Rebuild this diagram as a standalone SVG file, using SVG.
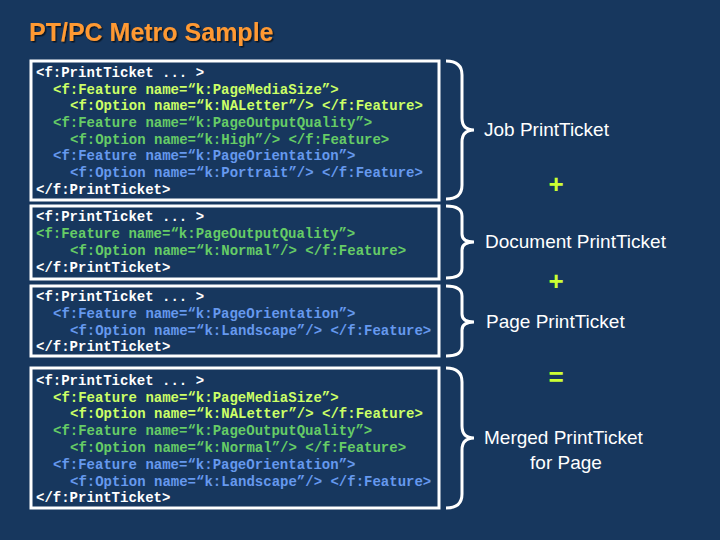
<svg xmlns="http://www.w3.org/2000/svg" width="720" height="540" viewBox="0 0 720 540">
<style>
.bx{fill:#17375e;stroke:#fff;stroke-width:3}
.c{font-family:"Liberation Mono","Courier New",monospace;font-weight:bold;font-size:14px}
.w{fill:#fff}.y{fill:#ccff66}.g{fill:#66cc66}.b{fill:#6699ee}
.br{fill:none;stroke:#fff;stroke-width:3}
.l{font-family:"Liberation Sans",Arial,sans-serif;font-size:19px;fill:#fff}
.op{font-family:"Liberation Sans",Arial,sans-serif;font-size:26px;fill:#ccff33;font-weight:bold}
</style>
<defs><filter id="sh"><feDropShadow dx="1.5" dy="1.5" stdDeviation="0.5" flood-color="#000" flood-opacity="0.6"/></filter></defs>
<rect width="720" height="540" fill="#17375e"/>
<text x="29" y="41" font-family="Liberation Sans,Arial,sans-serif" font-weight="bold" font-size="25" fill="#ff9933" filter="url(#sh)">PT/PC Metro Sample</text>
<g id="job">
<rect class="bx" x="31" y="61" width="408" height="139"/>
<text class="c"><tspan class="w" x="36" y="77">&lt;f:PrintTicket ... &gt;</tspan><tspan class="y" x="53" y="94">&lt;f:Feature name=“k:PageMediaSize”&gt;</tspan><tspan class="y" x="70" y="110">&lt;f:Option name=“k:NALetter”/&gt; &lt;/f:Feature&gt;</tspan><tspan class="g" x="53" y="127">&lt;f:Feature name=“k:PageOutputQuality”&gt;</tspan><tspan class="g" x="70" y="144">&lt;f:Option name=“k:High”/&gt; &lt;/f:Feature&gt;</tspan><tspan class="b" x="53" y="160">&lt;f:Feature name=“k:PageOrientation”&gt;</tspan><tspan class="b" x="70" y="177">&lt;f:Option name=“k:Portrait”/&gt; &lt;/f:Feature&gt;</tspan><tspan class="w" x="36" y="194">&lt;/f:PrintTicket&gt;</tspan></text>
</g>
<g id="doc">
<rect class="bx" x="31" y="206" width="408" height="73"/>
<text class="c"><tspan class="w" x="36" y="221">&lt;f:PrintTicket ... &gt;</tspan><tspan class="g" x="36" y="238">&lt;f:Feature name=“k:PageOutputQuality”&gt;</tspan><tspan class="g" x="70" y="255">&lt;f:Option name=“k:Normal”/&gt; &lt;/f:Feature&gt;</tspan><tspan class="w" x="36" y="272">&lt;/f:PrintTicket&gt;</tspan></text>
</g>
<g id="page">
<rect class="bx" x="31" y="286" width="408" height="70"/>
<text class="c"><tspan class="w" x="36" y="301">&lt;f:PrintTicket ... &gt;</tspan><tspan class="b" x="53" y="318">&lt;f:Feature name=“k:PageOrientation”&gt;</tspan><tspan class="b" x="70" y="335">&lt;f:Option name=“k:Landscape”/&gt; &lt;/f:Feature&gt;</tspan><tspan class="w" x="36" y="351">&lt;/f:PrintTicket&gt;</tspan></text>
</g>
<g id="merged">
<rect class="bx" x="31" y="368" width="408" height="140"/>
<text class="c"><tspan class="w" x="36" y="385">&lt;f:PrintTicket ... &gt;</tspan><tspan class="y" x="53" y="402">&lt;f:Feature name=“k:PageMediaSize”&gt;</tspan><tspan class="y" x="70" y="418">&lt;f:Option name=“k:NALetter”/&gt; &lt;/f:Feature&gt;</tspan><tspan class="g" x="53" y="435">&lt;f:Feature name=“k:PageOutputQuality”&gt;</tspan><tspan class="g" x="70" y="452">&lt;f:Option name=“k:Normal”/&gt; &lt;/f:Feature&gt;</tspan><tspan class="b" x="53" y="469">&lt;f:Feature name=“k:PageOrientation”&gt;</tspan><tspan class="b" x="70" y="486">&lt;f:Option name=“k:Landscape”/&gt; &lt;/f:Feature&gt;</tspan><tspan class="w" x="36" y="502">&lt;/f:PrintTicket&gt;</tspan></text>
</g>
<g id="braces">
<path class="br" d="M446,61 Q462,61 462,75 V118 Q462,130 474,130 Q462,130 462,142 V185 Q462,199 446,199"/>
<path class="br" d="M446,206 Q462,206 462,216 V234 Q462,242 474,242 Q462,242 462,250 V268 Q462,278 446,278"/>
<path class="br" d="M446,286 Q462,286 462,296 V314 Q462,322 474,322 Q462,322 462,330 V346 Q462,356 446,356"/>
<path class="br" d="M446,368 Q462,368 462,382 V426 Q462,438 474,438 Q462,438 462,450 V494 Q462,508 446,508"/>
</g>
<g id="labels">
<text class="l" x="484" y="136">Job PrintTicket</text>
<text class="l" x="485" y="248">Document PrintTicket</text>
<text class="l" x="486" y="328">Page PrintTicket</text>
<text class="l" x="484" y="444">Merged PrintTicket</text>
<text class="l" x="566" y="469" text-anchor="middle">for Page</text>
<text class="op" x="556" y="193" text-anchor="middle">+</text>
<text class="op" x="556" y="290" text-anchor="middle">+</text>
<text class="op" x="556" y="386" text-anchor="middle">=</text>
</g>
</svg>
